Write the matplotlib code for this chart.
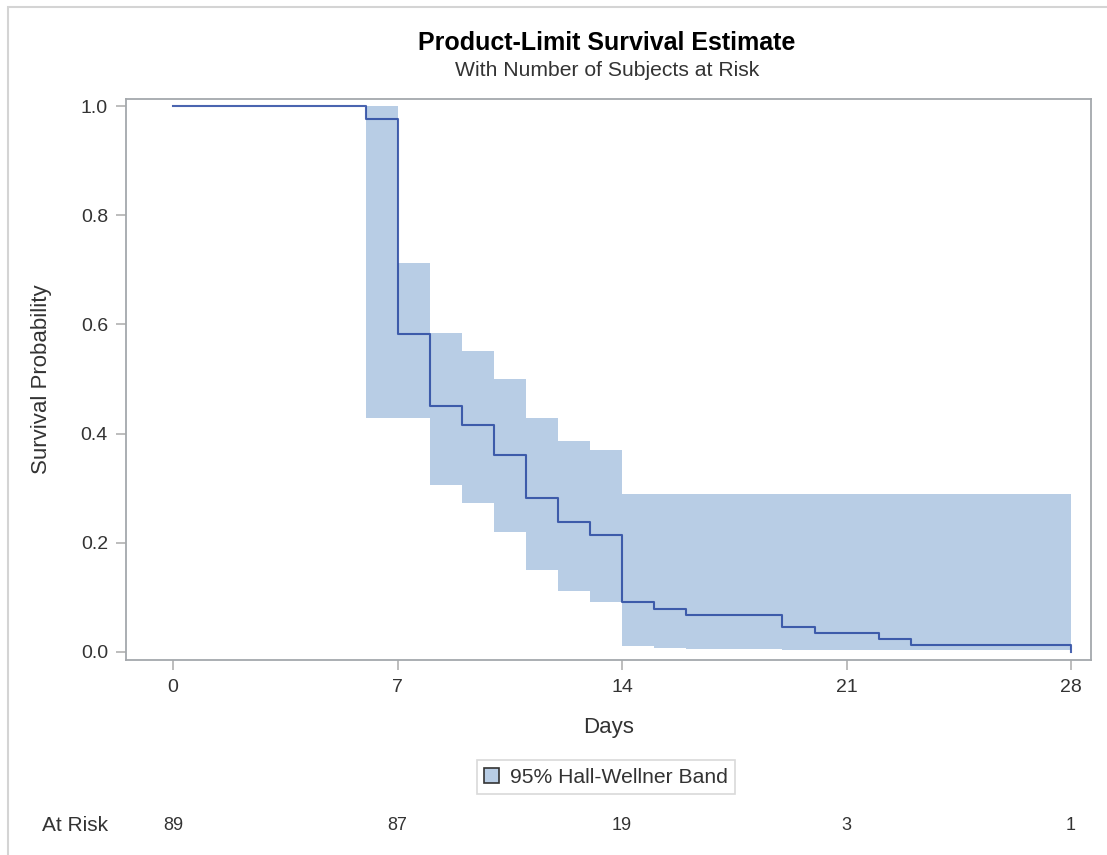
import numpy as np
import matplotlib.pyplot as plt
from matplotlib.patches import Patch, Rectangle
from matplotlib.transforms import blended_transform_factory

plt.rcParams['font.family'] = ['Liberation Sans', 'DejaVu Sans']

# Kaplan-Meier estimate (step values)
days = [0, 6, 7, 8, 9, 10, 11, 12, 13, 14, 15, 16, 19, 20, 22, 23, 28]
surv = [1.0, 0.976, 0.583, 0.450, 0.416, 0.360, 0.281, 0.237, 0.214,
        0.092, 0.079, 0.068, 0.045, 0.035, 0.023, 0.012, 0.0]

# 95% Hall-Wellner band
band_days = [6, 7, 8, 9, 10, 11, 12, 13, 14, 15, 16, 19, 28]
band_upper = [1.0, 0.712, 0.585, 0.552, 0.499, 0.428, 0.387, 0.369,
              0.290, 0.290, 0.290, 0.290, 0.290]
band_lower = [0.429, 0.429, 0.305, 0.273, 0.220, 0.150, 0.112, 0.092,
              0.011, 0.007, 0.005, 0.003, 0.003]

# at-risk table
risk_days = [0, 7, 14, 21, 28]
at_risk = [89, 87, 19, 3, 1]

band_col = '#B8CDE5'
line_col = '#1E3F9C'
txt_col = '#333333'
axis_col = '#A4A8AC'

W, H = 1107, 855
fig = plt.figure(figsize=(W / 100, H / 100), dpi=100)
ax = fig.add_axes([126 / W, 1 - 660 / H, (1091 - 126) / W, (660 - 99) / H])

ax.fill_between(band_days, band_lower, band_upper, step='post',
                color=band_col, lw=0)
ax.step(days, surv, where='post', color=line_col, lw=1.5, alpha=0.8)

ax.set_xlim(-1.47, 28.62)
ax.set_ylim(-0.015, 1.013)
ax.set_xticks([0, 7, 14, 21, 28])
ax.set_yticks([0.0, 0.2, 0.4, 0.6, 0.8, 1.0])
ax.yaxis.set_major_formatter(plt.FuncFormatter(lambda v, p: f'{v:.1f}'))
ax.tick_params(colors='#B8B8B8', labelcolor=txt_col, labelsize=14,
               length=7, width=1.3)
ax.tick_params(axis='x', pad=7)
ax.tick_params(axis='y', pad=6)
for s in ax.spines.values():
    s.set_color(axis_col)
    s.set_linewidth(1.3)

ax.set_xlabel('Days', fontsize=16, color=txt_col, va='center')
ax.xaxis.set_label_coords(0.5, -(727 - 660) / 561)
ax.set_ylabel('Survival Probability', fontsize=16, color=txt_col, va='center')
ax.yaxis.set_label_coords(-(126 - 42) / 965, 0.5)

fig.text(607 / W, 1 - 43 / H, 'Product-Limit Survival Estimate',
         ha='center', va='center', fontsize=18, fontweight='bold', color='black')
fig.text(607 / W, 1 - 71 / H, 'With Number of Subjects at Risk',
         ha='center', va='center', fontsize=15.2, color=txt_col)

leg = fig.legend(handles=[Patch(facecolor=band_col, edgecolor='#333333', lw=1.2,
                                label='95% Hall-Wellner Band')],
                 loc='center', bbox_to_anchor=(606 / W, 1 - 777 / H),
                 fontsize=15.2, frameon=True, fancybox=False,
                 handlelength=0.7, handleheight=0.7, handletextpad=0.5,
                 borderpad=0.35, labelcolor=txt_col)
leg.get_frame().set_edgecolor('#D0D0D0')
leg.get_frame().set_linewidth(1.2)

# at-risk row below the axes
bt = blended_transform_factory(ax.transData, fig.transFigure)
fig.text(42 / W, 1 - 825 / H, 'At Risk', ha='left', va='center',
         fontsize=15, color=txt_col)
for d, n in zip(risk_days, at_risk):
    ax.text(d, 1 - 825 / H, str(n), transform=bt, ha='center', va='center',
            fontsize=13, color=txt_col)

# light outer frame
fig.add_artist(Rectangle((8 / W, -0.1), 1.2, 1 - 7 / H + 0.1,
                         transform=fig.transFigure, fill=False,
                         edgecolor='#D4D4D4', lw=1.5))

fig.savefig('out.png', dpi=100)
